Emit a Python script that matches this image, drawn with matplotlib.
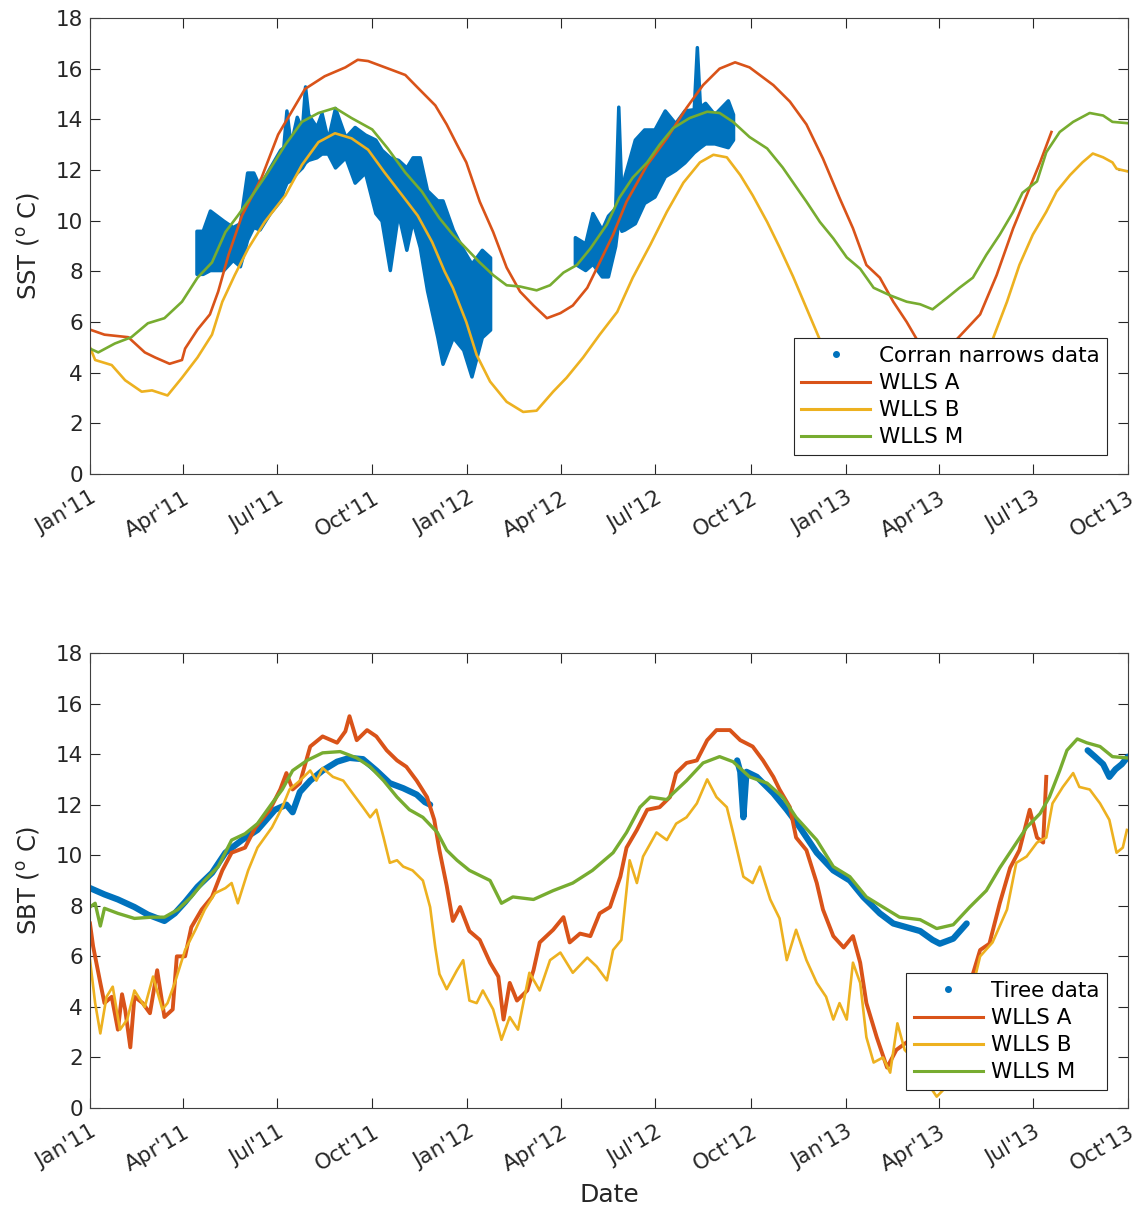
import numpy as np
import matplotlib.pyplot as plt
import matplotlib.dates as mdates
from matplotlib.lines import Line2D
from datetime import datetime

plt.rcParams['font.family'] = ['DejaVu Sans']

C_DATA = '#0072BD'
C_A = '#D95319'
C_B = '#EDB120'
C_M = '#77AC30'
C_AX = '#262626'

# ---- sea surface temperature (days since 1 Jan 2011) ----
sst_a_day = [0, 14, 37, 53, 63, 77, 89, 92, 104, 116, 124, 134, 147, 166, 182, 195, 208, 227, 247, 259,
             269, 292, 305, 317, 334, 345, 355, 364, 377, 390, 403, 416, 429, 442, 455, 467, 481, 493, 506, 519,
             539, 558, 577, 593, 609, 624, 638, 661, 677, 693, 709, 725, 738, 751, 764, 777, 790, 800, 819, 838,
             861, 877, 893, 906, 919, 930]
sst_a = [5.7, 5.5, 5.4, 4.8, 4.6, 4.35, 4.5, 4.95, 5.7, 6.3, 7.2, 8.65, 10.2, 11.7, 13.4, 14.3, 15.2, 15.7, 16.05, 16.35,
         16.3, 15.95, 15.75, 15.25, 14.55, 13.8, 13.0, 12.3, 10.75, 9.55, 8.15, 7.2, 6.65, 6.15, 6.35, 6.65, 7.35, 8.35, 9.45, 10.75,
         12.2, 13.25, 14.45, 15.35, 16.0, 16.25, 16.05, 15.35, 14.7, 13.8, 12.45, 10.9, 9.7, 8.25, 7.75, 6.8, 6.0, 5.3, 3.9, 5.3,
         6.3, 7.85, 9.7, 11.0, 12.3, 13.5]

sst_b_day = [0, 5, 21, 34, 50, 60, 75, 89, 104, 118, 128, 140, 153, 169, 189, 205, 221, 237, 253, 269,
             285, 302, 317, 331, 343, 351, 364, 374, 387, 403, 419, 432, 448, 461, 477, 493, 510, 525, 542, 558,
             574, 590, 603, 616, 629, 641, 655, 667, 680, 693, 706, 740, 780, 820, 850, 873, 887, 899, 912, 925,
             935, 948, 960, 970, 980, 989, 993, 1003]
sst_b = [5.0, 4.5, 4.3, 3.7, 3.25, 3.3, 3.1, 3.8, 4.6, 5.5, 6.8, 7.85, 8.9, 9.95, 11.0, 12.2, 13.1, 13.45, 13.25, 12.8,
         11.9, 11.0, 10.2, 9.15, 8.0, 7.35, 6.0, 4.7, 3.65, 2.85, 2.45, 2.5, 3.25, 3.8, 4.6, 5.5, 6.4, 7.75, 9.05, 10.35,
         11.5, 12.3, 12.6, 12.5, 11.8, 11.0, 9.95, 8.95, 7.8, 6.55, 5.3, 3.0, 1.5, 2.5, 4.2, 5.3, 6.8, 8.25, 9.45, 10.35,
         11.15, 11.8, 12.3, 12.65, 12.5, 12.3, 12.05, 11.95]

sst_m_day = [0, 8, 24, 40, 56, 72, 89, 104, 118, 131, 143, 157, 172, 189, 205, 221, 237, 253, 273, 288,
             305, 321, 338, 351, 364, 377, 390, 403, 416, 432, 445, 458, 471, 484, 500, 512, 525, 539, 551, 564,
             580, 597, 609, 622, 638, 655, 670, 687, 693, 706, 719, 732, 745, 758, 774, 790, 803, 815, 829, 841,
             854, 867, 880, 893, 902, 916, 925, 938, 951, 967, 980, 989, 1003]
sst_m = [4.95, 4.8, 5.15, 5.4, 5.95, 6.15, 6.8, 7.75, 8.35, 9.55, 10.2, 11.0, 11.9, 13.0, 13.9, 14.25, 14.45, 14.05, 13.6, 12.85,
         11.9, 11.15, 10.1, 9.45, 8.9, 8.35, 7.85, 7.45, 7.4, 7.25, 7.45, 7.95, 8.25, 8.9, 9.85, 10.9, 11.7, 12.3, 13.0, 13.65,
         14.05, 14.3, 14.25, 13.9, 13.3, 12.85, 12.1, 11.1, 10.75, 9.95, 9.3, 8.55, 8.1, 7.35, 7.05, 6.8, 6.7, 6.5, 6.95, 7.35,
         7.75, 8.65, 9.45, 10.35, 11.1, 11.55, 12.7, 13.5, 13.9, 14.25, 14.15, 13.9, 13.85]

# Corran narrows observations: daily spread (low / high) for two deployments
cn1_day = [103, 109, 116, 129, 138, 145, 152, 158, 164, 174, 184, 187, 190, 194, 200, 205, 208, 211, 219, 224,
           230, 237, 247, 256, 266, 276, 282, 290, 298, 306, 312, 319, 326, 336, 341, 351, 361, 369, 379, 387]
cn1_lo = [7.9, 7.9, 8.05, 8.05, 8.45, 8.2, 9.25, 9.75, 9.65, 10.3, 10.8, 11.2, 11.5, 11.6, 11.9, 12.1, 12.3, 12.4, 12.5, 12.65,
          12.65, 12.1, 12.5, 11.5, 11.9, 10.3, 10.0, 8.05, 10.3, 8.85, 10.0, 8.95, 7.25, 5.4, 4.35, 5.4, 4.9, 3.85, 5.4, 5.7]
cn1_hi = [9.6, 9.6, 10.4, 10.0, 9.75, 9.9, 11.9, 11.9, 11.35, 12.1, 12.8, 12.9, 14.35, 13.0, 14.1, 13.6, 15.3, 14.2, 13.7, 14.25,
          13.2, 14.45, 13.3, 13.7, 13.4, 13.2, 12.8, 12.5, 12.4, 12.1, 12.5, 12.5, 11.2, 10.8, 10.8, 9.65, 8.85, 8.3, 8.85, 8.55]

cn2_day = [469, 479, 486, 495, 501, 508, 511, 514, 517, 527, 536, 546, 556, 566, 575, 584, 587, 590, 595, 604, 617, 622]
cn2_lo = [8.3, 8.05, 8.3, 7.8, 7.8, 9.0, 10.0, 9.6, 9.65, 9.9, 10.7, 10.95, 11.75, 12.0, 12.3, 12.7, 12.8, 12.9, 13.05, 13.05, 12.9, 13.2]
cn2_hi = [9.35, 9.1, 10.3, 9.65, 10.2, 10.5, 14.5, 11.0, 11.75, 13.2, 13.6, 13.6, 14.35, 13.85, 14.35, 14.4, 16.85, 14.5, 14.65, 14.2, 14.75, 14.2]

# ---- sea bed temperature ----
sbt_a_day = [0, 3, 10, 14, 21, 27, 31, 34, 39, 43, 51, 58, 65, 72, 80, 84, 92, 98, 108, 118,
             128, 137, 150, 160, 174, 184, 190, 196, 203, 213, 225, 239, 247, 251, 258, 268, 277, 287, 297, 306,
             316, 326, 333, 338, 345, 351, 358, 367, 377, 387, 395, 400, 406, 413, 423, 429, 435, 448, 458, 464,
             474, 484, 493, 503, 513, 519, 529, 539, 551, 561, 567, 577, 587, 597, 606, 619, 629, 641, 651, 661,
             667, 677, 683, 693, 703, 709, 719, 729, 738, 745, 751, 761, 771, 780, 790, 805, 830, 854, 861, 870,
             880, 890, 899, 909, 916, 922, 925]
sbt_a = [7.3, 6.4, 4.95, 4.15, 4.4, 3.1, 4.5, 3.9, 2.4, 4.4, 4.15, 3.75, 5.45, 3.6, 3.9, 6.0, 6.0, 7.15, 7.85, 8.35,
         9.4, 10.1, 10.3, 11.1, 11.8, 12.6, 13.25, 12.6, 12.85, 14.3, 14.7, 14.45, 14.9, 15.5, 14.55, 14.95, 14.7, 14.15, 13.75, 13.5,
         12.95, 12.3, 11.4, 10.2, 8.8, 7.4, 7.95, 7.0, 6.65, 5.75, 5.2, 3.5, 4.95, 4.25, 4.65, 5.45, 6.55, 7.05, 7.55, 6.55,
         6.9, 6.8, 7.7, 7.95, 9.15, 10.3, 11.0, 11.8, 11.9, 12.3, 13.25, 13.65, 13.75, 14.55, 14.95, 14.95, 14.55, 14.3, 13.75, 13.1,
         12.6, 11.9, 10.7, 10.2, 8.9, 7.85, 6.8, 6.35, 6.8, 5.75, 4.15, 2.8, 1.6, 2.3, 2.6, 1.9, 3.2, 5.3, 6.25, 6.5,
         8.1, 9.5, 10.2, 11.8, 10.7, 10.5, 13.1]

sbt_b_day = [0, 5, 10, 16, 22, 29, 36, 43, 53, 61, 70, 75, 82, 92, 102, 111, 121, 131, 137, 143,
             153, 162, 176, 186, 193, 203, 213, 219, 225, 235, 245, 254, 264, 271, 277, 284, 290, 297, 303, 312,
             322, 329, 334, 338, 345, 355, 361, 367, 374, 380, 390, 398, 406, 414, 425, 435, 445, 455, 467, 481,
             490, 500, 506, 514, 522, 529, 535, 548, 558, 567, 577, 587, 597, 606, 616, 622, 632, 641, 648, 658,
             667, 674, 683, 693, 703, 712, 719, 725, 732, 738, 745, 751, 758, 767, 774, 781, 788, 800, 810, 819,
             825, 835, 848, 861, 873, 887, 896, 906, 916, 925, 931, 941, 951, 957, 967, 977, 986, 993, 999, 1003]
sbt_b = [5.85, 4.15, 2.95, 4.4, 4.8, 3.1, 3.5, 4.65, 4.0, 5.2, 3.9, 4.15, 4.95, 6.25, 7.05, 7.85, 8.5, 8.7, 8.9, 8.1,
         9.4, 10.3, 11.1, 11.9, 12.6, 12.95, 13.35, 12.95, 13.45, 13.1, 12.95, 12.45, 11.9, 11.5, 11.8, 10.7, 9.7, 9.8, 9.55, 9.4,
         9.0, 7.95, 6.35, 5.3, 4.7, 5.45, 5.85, 4.25, 4.15, 4.65, 3.9, 2.7, 3.6, 3.1, 5.35, 4.65, 5.85, 6.15, 5.35, 5.95,
         5.6, 5.05, 6.25, 6.65, 9.8, 8.9, 9.95, 10.9, 10.6, 11.25, 11.5, 12.05, 13.0, 12.3, 11.9, 10.9, 9.15, 8.9, 9.55, 8.25,
         7.5, 5.85, 7.05, 5.85, 4.95, 4.4, 3.5, 4.15, 3.5, 5.75, 4.95, 2.8, 1.8, 2.0, 1.4, 3.35, 2.3, 1.8, 1.0, 0.45,
         0.7, 2.0, 3.8, 6.0, 6.55, 7.85, 9.7, 9.95, 10.5, 10.7, 12.05, 12.7, 13.25, 12.7, 12.6, 12.05, 11.4, 10.1, 10.3, 11.0]

sbt_m_day = [0, 5, 10, 14, 27, 43, 60, 72, 85, 98, 111, 124, 137, 150, 162, 176, 186, 196, 210, 225,
             242, 258, 271, 284, 297, 309, 322, 336, 345, 355, 367, 387, 398, 409, 429, 448, 467, 486, 506, 519,
             532, 542, 558, 564, 577, 593, 609, 622, 638, 655, 670, 683, 703, 719, 735, 751, 767, 783, 803, 819,
             835, 851, 867, 880, 893, 906, 919, 928, 938, 945, 955, 964, 977, 989, 1003]
sbt_m = [7.95, 8.1, 7.2, 7.9, 7.7, 7.5, 7.55, 7.55, 7.85, 8.35, 9.0, 9.55, 10.6, 10.85, 11.25, 12.05, 12.6, 13.35, 13.75, 14.05,
         14.1, 13.85, 13.5, 12.95, 12.3, 11.8, 11.5, 10.9, 10.2, 9.8, 9.4, 9.0, 8.1, 8.35, 8.25, 8.6, 8.9, 9.4, 10.1, 10.9,
         11.9, 12.3, 12.2, 12.45, 12.95, 13.65, 13.9, 13.7, 13.1, 12.85, 12.3, 11.5, 10.6, 9.55, 9.15, 8.35, 7.95, 7.55, 7.45, 7.1,
         7.25, 7.95, 8.6, 9.5, 10.3, 11.1, 11.65, 12.3, 13.35, 14.15, 14.6, 14.45, 14.3, 13.9, 13.85]

# Tiree observations, three deployments
tr1_day = [0, 14, 27, 43, 56, 72, 82, 92, 104, 118, 131, 147, 162, 179, 190, 196, 203, 213, 225, 239,
           251, 264, 277, 290, 303, 316, 324, 329]
tr1 = [8.7, 8.45, 8.25, 7.95, 7.65, 7.4, 7.7, 8.15, 8.75, 9.3, 10.1, 10.6, 11.0, 11.8, 12.0, 11.7, 12.5, 12.95, 13.35, 13.7,
       13.85, 13.8, 13.35, 12.85, 12.65, 12.4, 12.1, 12.0]
tr2_day = [626, 629, 632, 635, 645, 661, 674, 685, 703, 719, 735, 748, 764, 777, 790, 803, 815, 822, 835, 848]
tr2 = [13.75, 13.3, 11.5, 13.3, 13.1, 12.45, 11.8, 11.2, 10.1, 9.4, 9.0, 8.35, 7.7, 7.3, 7.15, 7.0, 6.65, 6.5, 6.7, 7.3]
tr3_day = [965, 972, 980, 986, 992, 998, 1004]
tr3 = [14.15, 13.9, 13.6, 13.1, 13.4, 13.6, 13.9]

t0 = mdates.date2num(datetime(2011, 1, 1))


def to_x(days):
    return t0 + np.asarray(days, dtype=float)


def style_axes(ax, ylabel):
    ax.set_xlim(mdates.date2num(datetime(2011, 1, 1)), mdates.date2num(datetime(2013, 10, 1)))
    ax.set_ylim(0, 18)
    ax.set_yticks(np.arange(0, 19, 2))
    ax.xaxis.set_major_locator(mdates.MonthLocator(bymonth=[1, 4, 7, 10]))
    ax.xaxis.set_major_formatter(mdates.DateFormatter("%b'%y"))
    ax.tick_params(direction='in', length=7.5, width=0.8, top=True, right=True,
                   labelsize=15.5, colors=C_AX)
    ax.tick_params(axis='y', pad=5)
    ax.tick_params(axis='x', pad=10)
    for lab in ax.get_xticklabels():
        lab.set_rotation(30)
        lab.set_ha('right')
        lab.set_rotation_mode('anchor')
    for sp in ax.spines.values():
        sp.set_color('#404040')
        sp.set_linewidth(0.8)
    ax.set_ylabel(ylabel, fontsize=17.5, color=C_AX, labelpad=10)


fig = plt.figure(figsize=(11.42, 12.16), dpi=100)
ax1 = fig.add_axes([0.0788, 0.6102, 0.9089, 0.3750])
ax2 = fig.add_axes([0.0788, 0.0888, 0.9089, 0.3742])

# top panel: SST
for d, lo, hi in [(cn1_day, cn1_lo, cn1_hi), (cn2_day, cn2_lo, cn2_hi)]:
    ax1.fill_between(to_x(d), lo, hi, color=C_DATA, lw=2.5, edgecolor=C_DATA)
ax1.plot(to_x(sst_a_day), sst_a, color=C_A, lw=1.9)
ax1.plot(to_x(sst_b_day), sst_b, color=C_B, lw=1.9)
ax1.plot(to_x(sst_m_day), sst_m, color=C_M, lw=1.9)
style_axes(ax1, r'SST ($^{\mathrm{o}}$ C)')

# bottom panel: SBT
for d, v in [(tr1_day, tr1), (tr2_day, tr2), (tr3_day, tr3)]:
    ax2.plot(to_x(d), v, color=C_DATA, lw=4.5, solid_capstyle='round')
ax2.plot(to_x(sbt_a_day), sbt_a, color=C_A, lw=2.8)
ax2.plot(to_x(sbt_b_day), sbt_b, color=C_B, lw=1.9)
ax2.plot(to_x(sbt_m_day), sbt_m, color=C_M, lw=2.4)
style_axes(ax2, r'SBT ($^{\mathrm{o}}$ C)')
ax2.set_xlabel('Date', fontsize=18, color=C_AX, labelpad=6)


def add_legend(ax, first_label, anchor):
    handles = [Line2D([], [], color=C_DATA, marker='.', ls='none', markersize=8),
               Line2D([], [], color=C_A, lw=2.2),
               Line2D([], [], color=C_B, lw=2.2),
               Line2D([], [], color=C_M, lw=2.2)]
    leg = ax.legend(handles, [first_label, 'WLLS A', 'WLLS B', 'WLLS M'],
                    loc='lower right', bbox_to_anchor=anchor, fontsize=15.5,
                    handlelength=3.2, handletextpad=0.4, labelspacing=0.33,
                    borderpad=0.35, borderaxespad=0, fancybox=False,
                    framealpha=1, edgecolor='#262626')
    leg.get_frame().set_linewidth(0.8)
    for t in leg.get_texts():
        t.set_color('#000000')


add_legend(ax1, 'Corran narrows data', (0.98, 0.042))
add_legend(ax2, 'Tiree data', (0.98, 0.04))

fig.savefig('out.png', dpi=100)
